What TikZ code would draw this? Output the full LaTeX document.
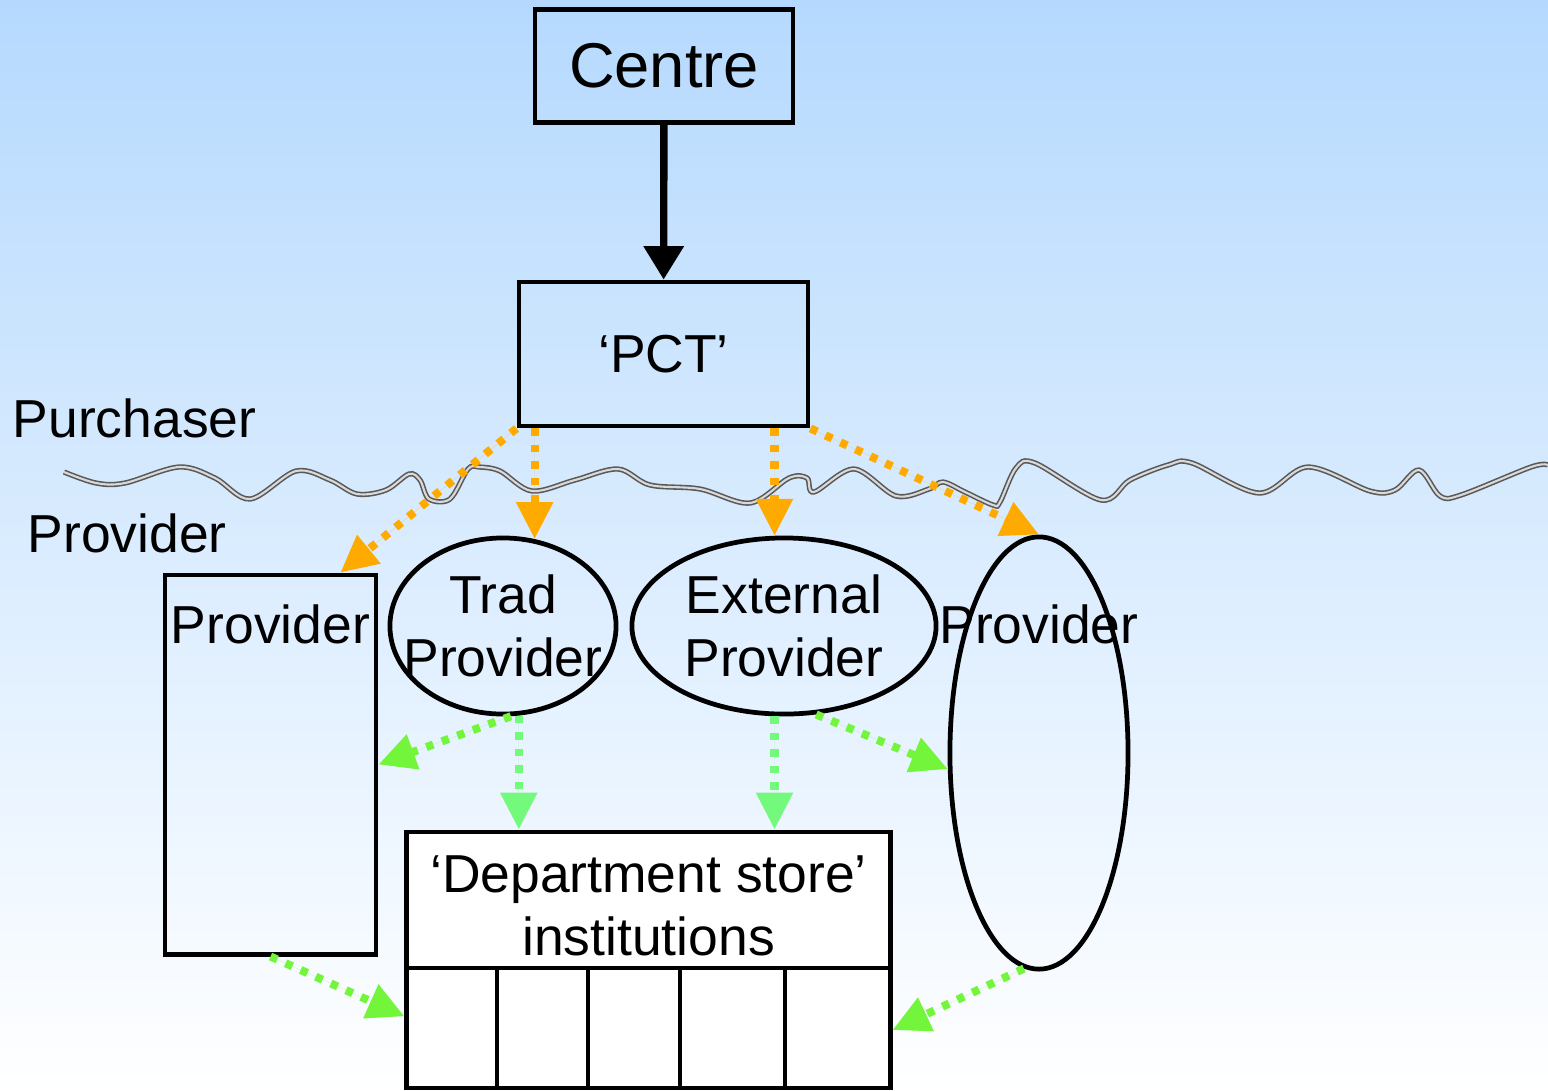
\documentclass[tikz,border=0pt]{standalone}
\usepackage{fontspec}
\setmainfont{Liberation Sans}
\usetikzlibrary{arrows.meta,positioning,shapes.geometric}

\definecolor{skytop}{RGB}{181,217,254}
\definecolor{arrorange}{RGB}{255,170,0}
\definecolor{arrgreen}{RGB}{115,245,60}
\definecolor{arrpale}{RGB}{115,250,125}

\tikzset{
	box/.style={draw,rectangle,line width=1.35pt,inner sep=0pt},
	oval/.style={draw,ellipse,line width=1.35pt,inner sep=0pt},
	lbl/.style={font=\fontsize{15.2}{18}\selectfont,align=center,inner sep=0pt},
	mainarrow/.style={line width=2.1pt,-{Triangle[length=9.5pt,width=11pt]}},
	dotarrow/.style={line width=2.3pt,dash pattern=on 2.1pt off 2.6pt,-{Triangle[length=10.5pt,width=10pt]}},
	orangearrow/.style={dotarrow,draw=arrorange,fill=arrorange},
	greenarrow/.style={dotarrow,draw=arrgreen,fill=arrgreen},
	palearrow/.style={dotarrow,draw=arrpale,fill=arrpale}
}

\begin{document}
\begin{tikzpicture}[x=0.01cm,y=-0.01cm]
		\useasboundingbox (0,0) rectangle (1548,1090);
		\shade[top color=skytop,bottom color=white] (0,0) rectangle (1548,1090);

		% purchaser / provider split
		\draw[line width=0.45pt,draw=gray!70!black,double=gray!30,double distance=0.6pt]
			plot[smooth,tension=0.55] coordinates {(64,472) (96,483) (125,483) (179,467) (215,478) (250,499) (296,471) (330,480) (357,494) (386,490) (409,474) (420,480) (429,499) (450,499) (468,469) (479,467) (500,471) (532,491) (575,480) (618,469) (650,485) (700,489) (750,503) (789,478) (807,478) (814,492) (854,469) (896,496) (929,489) (943,482) (965,492) (993,505) (1000,502) (1016,468) (1035,463) (1101,500) (1130,480) (1168,465) (1192,463) (1259,493) (1308,467) (1370,491) (1395,490) (1419,470) (1440,496) (1461,495) (1531,467) (1548,465)};

		\node[lbl,anchor=west] (purch) at (12,418) {Purchaser};
		\node[lbl,anchor=west] (prov) at (27,533) {Provider};

		\node[box,minimum width=2.58cm,minimum height=1.13cm,font=\fontsize{18}{21}\selectfont] (centre) at (664,66) {Centre};
		\node[box,minimum width=2.89cm,minimum height=1.44cm,lbl] (pct) at (663.5,354) {‘PCT’};

		\node[box,minimum width=2.11cm,minimum height=3.79cm,
			label={[lbl,anchor=center,yshift=-0.52cm]north:Provider}] (provA) at (270.5,764.5) {};
		\node[oval,minimum width=2.26cm,minimum height=1.76cm,
			label={[lbl]center:{Trad\\Provider}}] (trad) at (503,626) {};
		\node[oval,minimum width=3.04cm,minimum height=1.76cm,
			label={[lbl]center:{External\\Provider}}] (ext) at (784,626) {};
		\node[oval,minimum width=1.78cm,minimum height=4.32cm,
			label={[lbl,anchor=center,yshift=-0.9cm]north:Provider}] (provB) at (1039,753) {};

		\node[box,fill=white,minimum width=4.83cm,minimum height=2.56cm,
			label={[lbl,anchor=center,yshift=-0.76cm]north:{‘Department store’\\institutions}}] (store) at (648.5,960) {};
		\draw[line width=1.1pt] (store.west |- 0,968) -- (store.east |- 0,968);
		\foreach \x in {497,588,680,785} {\draw[line width=1pt] (\x,968) -- (\x,0 |- store.south);}

		\draw[mainarrow] (centre) -- (pct);

		\draw[orangearrow] (pct.south west) -- (provA.70);
		\draw[orangearrow] (trad.70 |- pct.south) -- (trad.70);
		\draw[orangearrow] (ext.96 |- pct.south) -- (ext.96);
		\draw[orangearrow] (pct.south east) -- (provB.north);

		\draw[greenarrow] (trad.-85) -- (provA.east);
		\draw[palearrow] (trad.-80) -- (trad.-80 |- store.north);
		\draw[palearrow] (ext.-96) -- (ext.-96 |- store.north);
		\draw[greenarrow] (ext.-70) -- (provB.190);
		\draw[greenarrow] (provA.south) -- (store.193);
		\draw[greenarrow] (provB.-94) -- (store.-16);
\end{tikzpicture}
\end{document}
